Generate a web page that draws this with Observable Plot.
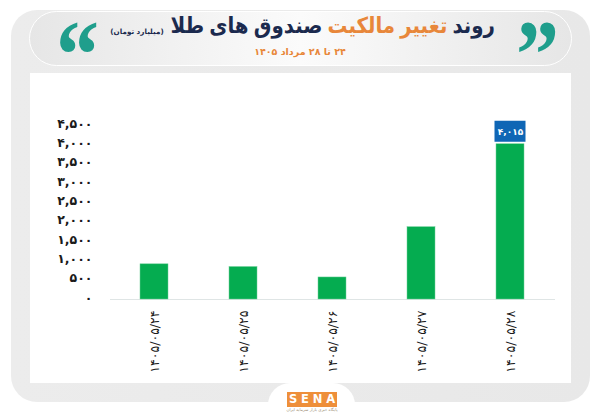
<!DOCTYPE html>
<html lang="fa">
<head>
<meta charset="utf-8">
<script src="https://cdn.jsdelivr.net/npm/d3@7"></script>
<script src="https://cdn.jsdelivr.net/npm/@observablehq/plot@0.6"></script>
<style>
html,body{margin:0;padding:0;background:#fff;width:600px;height:415px;overflow:hidden;font-family:"DejaVu Sans",sans-serif}
.abs{position:absolute}
#panel{left:11px;top:10px;width:579px;height:392px;border-radius:26px;background:linear-gradient(90deg,#ececec,#e8e8e8)}
#head{left:29px;top:11px;width:541px;height:53px;border:1px solid #fff;border-radius:28px;background:linear-gradient(90deg,#e6e6e6,#fbfbfb 50%,#e6e6e6)}
#white{left:30px;top:73px;width:541px;height:310px;background:#fff}
#pill{left:268px;top:383px;width:87px;height:32px;background:#fff;border-radius:22px 22px 0 0}
.t{white-space:nowrap;direction:rtl}
#title{left:175px;top:10px;width:320px;text-align:right;font-weight:700;font-size:22px;line-height:32px;color:#1b2a4e;word-spacing:-2px;letter-spacing:-.4px;transform:scaleX(.9);transform-origin:right center}
#title b{color:#e8873a;font-weight:700}
#unit{left:104px;top:26px;width:66px;text-align:center;font-size:7.2px;line-height:12px;color:#1b2a4e;font-weight:700;letter-spacing:-.2px}
#sub{left:230px;top:45px;width:140px;text-align:center;font-size:9.5px;line-height:14px;color:#e8873a;font-weight:700}
.q{font-family:"Liberation Serif",serif;font-weight:700;font-size:86px;line-height:86px;color:#1f9e8c;direction:ltr;transform:scaleY(1.12);transform-origin:center top}
#ql{left:56px;top:6px}
#qr{left:516px;top:6px}
#logo{left:287px;top:392px;width:50px;height:15px;background:#ee8f3a;color:#fff;font-weight:700;font-size:11.5px;line-height:15px;display:flex;justify-content:space-around;direction:ltr}
#tag{left:272px;top:407px;width:80px;text-align:center;font-size:4px;line-height:6px;color:#9a8a70}
#chart{left:0;top:0}
</style>
</head>
<body>
<div class="abs" id="panel"></div>
<div class="abs" id="head"></div>
<div class="abs" id="white"></div>
<div class="abs" id="pill"></div>
<div class="abs q" id="ql">“</div>
<div class="abs q" id="qr">”</div>
<div class="abs t" id="title">روند <b>تغییر مالکیت</b> صندوق های طلا</div>
<div class="abs t" id="unit">(میلیارد تومان)</div>
<div class="abs t" id="sub">۲۴ تا ۲۸ مرداد ۱۴۰۵</div>
<div class="abs" id="logo"><span>S</span><span>E</span><span>N</span><span>A</span></div>
<div class="abs t" id="tag">پایگاه خبری بازار سرمایه ایران</div>
<div class="abs" id="chart"></div>
<script>
const dates = ["۱۴۰۵/۰۵/۲۴","۱۴۰۵/۰۵/۲۵","۱۴۰۵/۰۵/۲۶","۱۴۰۵/۰۵/۲۷","۱۴۰۵/۰۵/۲۸"];
const values = [910, 840, 570, 1870, 4015];
const labelled = ["۱۴۰۵/۰۵/۲۸"];
const labelledValues = [4015];
const labelTexts = ["۴,۰۱۵"];
const yTicks = [0,500,1000,1500,2000,2500,3000,3500,4000,4500];
const yTickLabels = ["۰","۵۰۰","۱,۰۰۰","۱,۵۰۰","۲,۰۰۰","۲,۵۰۰","۳,۰۰۰","۳,۵۰۰","۴,۰۰۰","۴,۵۰۰"];

const rows = dates.map((d,i)=>({d,v:values[i]}));
const lab = labelled.map((d,i)=>({d,v:labelledValues[i],t:labelTexts[i]}));
const font = '"DejaVu Sans",sans-serif';

const plot = Plot.plot({
  width:600,height:415,
  marginLeft:110,marginRight:45,marginTop:125,marginBottom:116,
  style:{background:"transparent",fontFamily:font},
  x:{domain:dates,paddingInner:0.685,paddingOuter:0.3425,label:null},
  y:{domain:[0,4500],label:null},
  marks:[
    Plot.axisY({ticks:yTicks,tickFormat:v=>yTickLabels[yTicks.indexOf(v)],tickSize:0,tickPadding:18,fontSize:12.5,fontWeight:700,color:"#1a1a1a",label:null,dy:-2}),
    Plot.axisX({tickRotate:-90,tickSize:0,tickPadding:11,fontSize:12.5,fontWeight:400,color:"#1a1a1a",label:null}),
    Plot.ruleY([0],{stroke:"#dfe5e5",strokeWidth:1}),
    Plot.barY(rows,{x:"d",y:"v",fill:"#05ac50",stroke:"#6fcf98",strokeWidth:0.5}),
    Plot.barY(lab,{x:"d",y1:"v",y2:"v",fill:"#0f66b5",insetLeft:-1.5,insetRight:-1.5,insetTop:-23,insetBottom:2}),
    Plot.text(lab,{x:"d",y:"v",text:"t",fill:"#fff",fontSize:9,fontWeight:700,dy:-12.5,fontFamily:font})
  ]
});
document.getElementById("chart").appendChild(plot);
</script>
</body>
</html>
